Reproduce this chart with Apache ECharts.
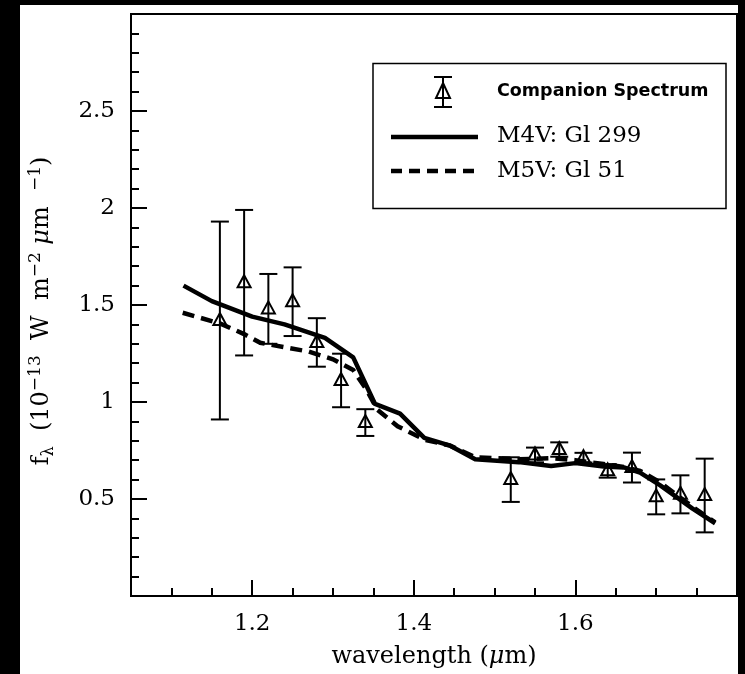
<!DOCTYPE html>
<html>
<head>
<meta charset="utf-8">
<script src="https://cdn.jsdelivr.net/npm/echarts@6/dist/echarts.min.js"></script>
<style>
  html, body { margin: 0; padding: 0; background: #000; }
  #chart { width: 745px; height: 674px; }
</style>
</head>
<body>
<div id="chart"></div>
<script>
// Companion spectrum: wavelength (um), flux, 1-sigma error
const wavelength = [1.16, 1.19, 1.22, 1.25, 1.28, 1.31, 1.34, 1.52, 1.55, 1.58, 1.61, 1.64, 1.67, 1.70, 1.73, 1.76];
const flux       = [1.42, 1.615, 1.48, 1.517, 1.307, 1.111, 0.894, 0.60, 0.727, 0.755, 0.713, 0.645, 0.662, 0.511, 0.524, 0.518];
const fluxErr    = [0.51, 0.375, 0.18, 0.177, 0.125, 0.138, 0.069, 0.115, 0.038, 0.037, 0.025, 0.035, 0.077, 0.09, 0.098, 0.19];

// Template spectra
const m4vWave = [1.115, 1.15, 1.20, 1.24, 1.29, 1.325, 1.352, 1.383, 1.413, 1.445, 1.476, 1.53, 1.57, 1.60, 1.635, 1.66, 1.68, 1.705, 1.745, 1.773];
const m4vFlux = [1.60, 1.52, 1.44, 1.40, 1.33, 1.23, 0.99, 0.94, 0.815, 0.775, 0.705, 0.69, 0.67, 0.685, 0.668, 0.663, 0.636, 0.57, 0.45, 0.375];
const m5vWave = [1.114, 1.16, 1.19, 1.21, 1.27, 1.30, 1.325, 1.342, 1.355, 1.38, 1.414, 1.445, 1.476, 1.53, 1.57, 1.60, 1.635, 1.66, 1.68, 1.705, 1.745, 1.773];
const m5vFlux = [1.46, 1.405, 1.35, 1.305, 1.26, 1.22, 1.165, 1.06, 0.96, 0.875, 0.805, 0.775, 0.715, 0.705, 0.71, 0.70, 0.68, 0.665, 0.645, 0.585, 0.46, 0.38];

// Axis ticks
const xMajorTicks = [1.2, 1.4, 1.6];
const xMinorTicks = [1.1, 1.15, 1.25, 1.3, 1.35, 1.45, 1.5, 1.55, 1.65, 1.7, 1.75];

const SERIF = '"DejaVu Serif", serif';

const chart = echarts.init(document.getElementById('chart'), null, { renderer: 'canvas' });

function errorBarItem(params, api) {
  const x = api.value(0), y = api.value(1), e = api.value(2);
  const p = api.coord([x, y]);
  const top = api.coord([x, y + e]);
  const bot = api.coord([x, y - e]);
  const cw = 9;
  const ls = { stroke: '#000', lineWidth: 2, fill: null };
  return {
    type: 'group',
    children: [
      { type: 'line', shape: { x1: p[0], y1: top[1], x2: p[0], y2: bot[1] }, style: ls },
      { type: 'line', shape: { x1: p[0] - cw, y1: top[1], x2: p[0] + cw, y2: top[1] }, style: ls },
      { type: 'line', shape: { x1: p[0] - cw, y1: bot[1], x2: p[0] + cw, y2: bot[1] }, style: ls },
      { type: 'polygon', shape: { points: [[p[0], p[1] - 7.5], [p[0] + 6.5, p[1] + 4.5], [p[0] - 6.5, p[1] + 4.5]] },
        style: { fill: 'none', stroke: '#000', lineWidth: 2 } }
    ]
  };
}

const axisLineStyle = { color: '#000', width: 2 };

const option = {
  backgroundColor: '#000',
  animation: false,
  grid: { left: 131, right: 8, top: 14, bottom: 77, show: true, borderColor: '#000', borderWidth: 2, backgroundColor: '#fff' },
  xAxis: [
    {
      type: 'value', min: 1.05, max: 1.8,
      name: '{t|wavelength (}{mu|μ}{t|m)}',
      nameLocation: 'middle', nameGap: 49,
      nameTextStyle: {
        rich: {
          t: { fontFamily: SERIF, fontSize: 24, color: '#000' },
          mu: { fontFamily: SERIF, fontSize: 24, fontStyle: 'italic', color: '#000' }
        }
      },
      axisLine: { show: true, lineStyle: axisLineStyle },
      axisTick: { show: true, inside: true, length: 16, customValues: xMajorTicks, lineStyle: { color: '#000', width: 2 } },
      axisLabel: { show: true, customValues: xMajorTicks, margin: 17, fontFamily: SERIF, fontSize: 23, color: '#000',
                   formatter: v => v.toFixed(1) },
      splitLine: { show: false }
    },
    {
      type: 'value', min: 1.05, max: 1.8, position: 'bottom',
      axisLine: { show: false },
      axisTick: { show: true, inside: true, length: 8, customValues: xMinorTicks, lineStyle: { color: '#000', width: 2 } },
      axisLabel: { show: false },
      splitLine: { show: false }
    }
  ],
  yAxis: {
    type: 'value', min: 0, max: 3, interval: 0.5,
    axisLine: { show: true, lineStyle: axisLineStyle },
    axisTick: { show: true, inside: true, length: 16, lineStyle: { color: '#000', width: 2 } },
    minorTick: { show: true, splitNumber: 5, length: 8, lineStyle: { color: '#000', width: 2 } },
    axisLabel: { show: true, showMinLabel: false, showMaxLabel: false, margin: 16,
                 fontFamily: SERIF, fontSize: 23, color: '#000' },
    splitLine: { show: false }
  },
  series: [
    {
      name: 'Companion Spectrum', type: 'custom', xAxisIndex: 0,
      renderItem: errorBarItem,
      data: wavelength.map((w, i) => [w, flux[i], fluxErr[i]]),
      z: 3
    },
    {
      name: 'M4V: Gl 299', type: 'line', xAxisIndex: 0, showSymbol: false,
      data: m4vWave.map((w, i) => [w, m4vFlux[i]]),
      lineStyle: { color: '#000', width: 4.5, cap: 'butt', join: 'round' },
      z: 4
    },
    {
      name: 'M5V: Gl 51', type: 'line', xAxisIndex: 0, showSymbol: false,
      data: m5vWave.map((w, i) => [w, m5vFlux[i]]),
      lineStyle: { color: '#000', width: 4.5, type: [12, 7], cap: 'butt', join: 'miter' },
      z: 4
    }
  ],
  graphic: [
    // page frame
    { type: 'rect', z: -10, shape: { x: 20, y: 5, width: 718, height: 669 }, style: { fill: '#fff' }, silent: true },
    // y-axis title, read bottom to top
    {
      type: 'text', z: 11, x: 42, y: 311, rotation: Math.PI / 2,
      style: {
        text: '{t|f}{sub|λ}{t|  (10}{sup|−13}{t|  W  m}{sup|−2}{t| }{mu|μ}{t|m  }{sup|−1}{t|)}',
        align: 'center', verticalAlign: 'middle',
        rich: {
          t: { fontFamily: SERIF, fontSize: 24, fill: '#000', lineHeight: 30, verticalAlign: 'middle' },
          mu: { fontFamily: SERIF, fontSize: 24, fontStyle: 'italic', fill: '#000', lineHeight: 30, verticalAlign: 'middle' },
          sup: { fontFamily: SERIF, fontSize: 17, fill: '#000', verticalAlign: 'top', lineHeight: 30 },
          sub: { fontFamily: SERIF, fontSize: 16, fill: '#000', verticalAlign: 'bottom', lineHeight: 26 }
        }
      }
    },
    // key box
    { type: 'rect', z: 10, shape: { x: 373, y: 63.5, width: 353, height: 145 }, style: { fill: '#fff', stroke: '#000', lineWidth: 1.5 } },
    { type: 'line', z: 11, shape: { x1: 443, y1: 77, x2: 443, y2: 107 }, style: { stroke: '#000', lineWidth: 2 } },
    { type: 'line', z: 11, shape: { x1: 434, y1: 77, x2: 452, y2: 77 }, style: { stroke: '#000', lineWidth: 2 } },
    { type: 'line', z: 11, shape: { x1: 434, y1: 107, x2: 452, y2: 107 }, style: { stroke: '#000', lineWidth: 2 } },
    { type: 'polygon', z: 11, shape: { points: [[443, 83], [450, 98], [436, 98]] }, style: { fill: 'none', stroke: '#000', lineWidth: 2 } },
    { type: 'text', z: 11, x: 497, y: 91, style: { text: 'Companion Spectrum', fill: '#000', font: 'bold 17.5px "DejaVu Sans", sans-serif', verticalAlign: 'middle' } },
    { type: 'line', z: 11, shape: { x1: 391, y1: 137, x2: 478, y2: 137 }, style: { stroke: '#000', lineWidth: 4.5 } },
    { type: 'text', z: 11, x: 497, y: 136, style: { text: 'M4V: Gl 299', fill: '#000', font: '23px "DejaVu Serif", serif', verticalAlign: 'middle' } },
    { type: 'line', z: 11, shape: { x1: 391, y1: 171, x2: 478, y2: 171 }, style: { stroke: '#000', lineWidth: 4.5, lineDash: [11, 7] } },
    { type: 'text', z: 11, x: 497, y: 171, style: { text: 'M5V: Gl 51', fill: '#000', font: '23px "DejaVu Serif", serif', verticalAlign: 'middle' } }
  ]
};

chart.setOption(option);
</script>
</body>
</html>
